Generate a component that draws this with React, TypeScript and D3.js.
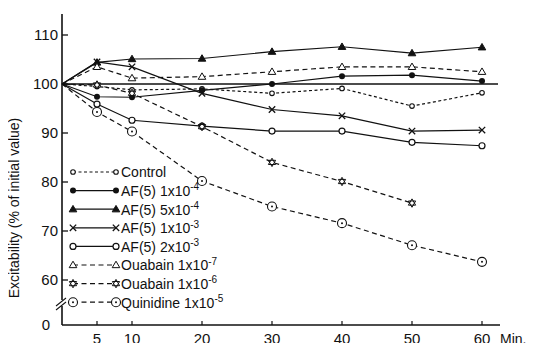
import React, { useEffect, useRef } from "react";
import * as d3 from "d3";

// minutes after application
const times = [0, 5, 10, 20, 30, 40, 50, 60];
const timesShort = [0, 5, 10, 20, 30, 40, 50];

// excitability, % of initial value
const control = [100, 99.5, 98.8, 99, 98.1, 99.1, 95.5, 98.2];
const af1e4 = [100, 97.4, 97.3, 98.7, 100, 101.6, 101.8, 100.6];
const af5e4 = [100, 104.4, 105.1, 105.2, 106.6, 107.6, 106.3, 107.5];
const af1e3 = [100, 104.5, 103.5, 98.1, 94.8, 93.5, 90.4, 90.6];
const af2e3 = [100, 95.9, 92.6, 91.4, 90.4, 90.4, 88.1, 87.4];
const ouabain7 = [100, 103.5, 101.2, 101.5, 102.5, 103.5, 103.5, 102.5];
const ouabain6 = [100, 99.8, 98.1, 91.3, 84, 80.1, 75.7];
const quinidine = [100, 94.3, 90.3, 80.2, 75, 71.6, 67.1, 63.7];

const xTicks = [5, 10, 20, 30, 40, 50, 60];
const yTicks = [60, 70, 80, 90, 100, 110];

type Series = {
  label: string;
  sup: string;
  t: number[];
  v: number[];
  marker: string;
  dash: string | null;
};

const series: Series[] = [
  { label: "Control", sup: "", t: times, v: control, marker: "smallCircle", dash: "3,2.5" },
  { label: "AF(5) 1x10", sup: "-4", t: times, v: af1e4, marker: "dot", dash: null },
  { label: "AF(5) 5x10", sup: "-4", t: times, v: af5e4, marker: "filledTri", dash: null },
  { label: "AF(5) 1x10", sup: "-3", t: times, v: af1e3, marker: "cross", dash: null },
  { label: "AF(5) 2x10", sup: "-3", t: times, v: af2e3, marker: "circle", dash: null },
  { label: "Ouabain 1x10", sup: "-7", t: times, v: ouabain7, marker: "openTri", dash: "5,3.5" },
  { label: "Ouabain 1x10", sup: "-6", t: timesShort, v: ouabain6, marker: "star", dash: "5,3.5" },
  { label: "Quinidine 1x10", sup: "-5", t: times, v: quinidine, marker: "dotCircle", dash: "5,3.5" },
];

function drawMarker(g: any, kind: string, cx: number, cy: number) {
  const ink = "#111";
  if (kind === "smallCircle") {
    g.append("circle").attr("cx", cx).attr("cy", cy).attr("r", 2.3)
      .attr("fill", "#fff").attr("stroke", ink).attr("stroke-width", 1.1);
  } else if (kind === "circle") {
    g.append("circle").attr("cx", cx).attr("cy", cy).attr("r", 3)
      .attr("fill", "#fff").attr("stroke", ink).attr("stroke-width", 1.2);
  } else if (kind === "dot") {
    g.append("circle").attr("cx", cx).attr("cy", cy).attr("r", 3)
      .attr("fill", ink);
  } else if (kind === "dotCircle") {
    g.append("circle").attr("cx", cx).attr("cy", cy).attr("r", 4.5)
      .attr("fill", "#fff").attr("stroke", ink).attr("stroke-width", 1.1);
    g.append("circle").attr("cx", cx).attr("cy", cy).attr("r", 1).attr("fill", ink);
  } else if (kind === "filledTri" || kind === "openTri") {
    const s = 3.8;
    const pts = [[cx, cy - s], [cx - s, cy + s * 0.7], [cx + s, cy + s * 0.7]];
    g.append("polygon").attr("points", pts.map(p => p.join(",")).join(" "))
      .attr("fill", kind === "filledTri" ? ink : "#fff")
      .attr("stroke", ink).attr("stroke-width", 1);
  } else if (kind === "cross") {
    const s = 3.2;
    g.append("path")
      .attr("d", `M${cx - s},${cy - s}L${cx + s},${cy + s}M${cx - s},${cy + s}L${cx + s},${cy - s}`)
      .attr("stroke", ink).attr("stroke-width", 1.3);
  } else if (kind === "star") {
    const s = 4.2;
    const tri = (rot: number) => d3.range(3).map(i => {
      const a = rot + (i * 2 * Math.PI) / 3;
      return [cx + s * Math.sin(a), cy - s * Math.cos(a)].join(",");
    }).join(" ");
    g.append("polygon").attr("points", tri(0)).attr("fill", "#fff").attr("stroke", ink).attr("stroke-width", 1);
    g.append("polygon").attr("points", tri(Math.PI)).attr("fill", "none").attr("stroke", ink).attr("stroke-width", 1);
  }
}

export default function App() {
  const ref = useRef<SVGSVGElement>(null);

  useEffect(() => {
    const svg = d3.select(ref.current);
    svg.selectAll("*").remove();

    const ink = "#111";
    const font = "'Liberation Sans', Arial, sans-serif";

    const x = d3.scaleLinear().domain([0, 60]).range([62, 482]);
    const y = d3.scaleLinear().domain([60, 110]).range([280, 35]);
    const axisY = 325;
    const axisX = x(0);

    // axes
    svg.append("line").attr("x1", axisX).attr("x2", 500).attr("y1", axisY).attr("y2", axisY)
      .attr("stroke", ink).attr("stroke-width", 1.6);
    svg.append("line").attr("x1", axisX).attr("x2", axisX).attr("y1", axisY).attr("y2", 14)
      .attr("stroke", ink).attr("stroke-width", 1.6);

    // axis break
    svg.append("rect").attr("x", axisX - 3).attr("y", 300).attr("width", 6).attr("height", 6).attr("fill", "#fff");
    [0, 4].forEach(o => {
      svg.append("line").attr("x1", axisX - 6).attr("x2", axisX + 4)
        .attr("y1", 306 + o).attr("y2", 298 + o).attr("stroke", ink).attr("stroke-width", 1.1);
    });

    // y ticks
    yTicks.forEach(t => {
      svg.append("line").attr("x1", axisX).attr("x2", axisX + 6).attr("y1", y(t)).attr("y2", y(t))
        .attr("stroke", ink).attr("stroke-width", 1.3);
      svg.append("text").attr("x", axisX - 4).attr("y", y(t)).attr("dy", "0.35em")
        .attr("text-anchor", "end").attr("font-family", font).attr("font-size", 15)
        .attr("fill", ink).text(t);
    });
    svg.append("text").attr("x", axisX - 12).attr("y", axisY).attr("dy", "0.35em")
      .attr("text-anchor", "end").attr("font-family", font).attr("font-size", 15)
      .attr("fill", ink).text("0");

    // x ticks
    xTicks.forEach(t => {
      svg.append("line").attr("x1", x(t)).attr("x2", x(t)).attr("y1", axisY).attr("y2", axisY - 4)
        .attr("stroke", ink).attr("stroke-width", 1.2);
      svg.append("text").attr("x", x(t)).attr("y", 344)
        .attr("text-anchor", "middle").attr("font-family", font).attr("font-size", 15)
        .attr("fill", ink).text(t);
    });
    svg.append("text").attr("x", 500).attr("y", 344).attr("font-family", font)
      .attr("font-size", 14).attr("fill", ink).text("Min.");

    // y label
    svg.append("text").attr("transform", "translate(19,208) rotate(-90)")
      .attr("text-anchor", "middle").attr("font-family", font).attr("font-size", 14)
      .attr("fill", ink).text("Excitability (% of initial value)");

    // 100% reference line
    svg.append("line").attr("x1", axisX).attr("x2", 498).attr("y1", y(100)).attr("y2", y(100))
      .attr("stroke", ink).attr("stroke-width", 1.4);

    series.forEach(s => {
      const pts: [number, number][] = s.t.map((t, i) => [x(t), y(s.v[i])]);
      svg.append("path")
        .attr("d", d3.line()(pts))
        .attr("fill", "none")
        .attr("stroke", ink)
        .attr("stroke-width", 1.2)
        .attr("stroke-dasharray", s.dash);
      const g = svg.append("g");
      pts.slice(1).forEach(p => drawMarker(g, s.marker, p[0], p[1]));
    });

    // legend
    const lg = svg.append("g");
    series.forEach((s, i) => {
      const ly = 172 + i * 18.6;
      lg.append("line").attr("x1", 73).attr("x2", 116).attr("y1", ly).attr("y2", ly)
        .attr("stroke", ink).attr("stroke-width", 1.2).attr("stroke-dasharray", s.dash);
      drawMarker(lg, s.marker, 73, ly);
      drawMarker(lg, s.marker, 116, ly);
      const txt = lg.append("text").attr("x", 121).attr("y", ly).attr("dy", "0.38em")
        .attr("font-family", font).attr("font-size", 14).attr("fill", ink).text(s.label);
      if (s.sup) {
        txt.append("tspan").attr("dy", "-0.55em").attr("font-size", 10).text(s.sup);
      }
    });
  }, []);

  return (
    <div>
      <svg ref={ref} width={536} height={351} style={{ display: "block", margin: -8, background: "#fff" }} />
    </div>
  );
}
